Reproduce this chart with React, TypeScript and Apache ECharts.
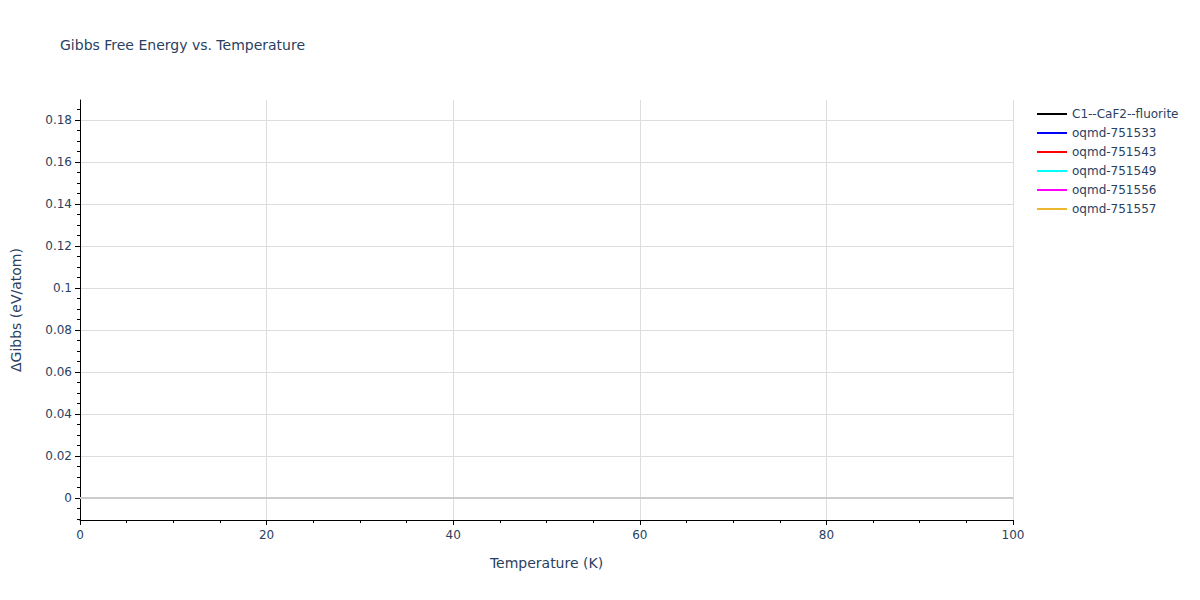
import React, { useEffect, useRef } from 'react'
import * as echarts from 'echarts'

const seriesNames = [
  'C1--CaF2--fluorite',
  'oqmd-751533',
  'oqmd-751543',
  'oqmd-751549',
  'oqmd-751556',
  'oqmd-751557'
]
const seriesColors = ['#000000', '#0000ff', '#ff0000', '#00ffff', '#ff00ff', '#ecb62f']
// no points fall inside the visible window in the reference
const seriesData: number[][][] = [[], [], [], [], [], []]

const yMajorTicks = [0, 0.02, 0.04, 0.06, 0.08, 0.1, 0.12, 0.14, 0.16, 0.18]
const yMinorTicks = [
  -0.01, -0.005, 0.005, 0.01, 0.015, 0.025, 0.03, 0.035, 0.045, 0.05, 0.055,
  0.065, 0.07, 0.075, 0.085, 0.09, 0.095, 0.105, 0.11, 0.115, 0.125, 0.13,
  0.135, 0.145, 0.15, 0.155, 0.165, 0.17, 0.175, 0.185
]
const yRange = [-0.0105, 0.1895]
const xRange = [0, 100]

const FONT = '"DejaVu Sans", Verdana, sans-serif'
const TEXT = '#2a3f5f'

const App: React.FC = () => {
  const chartRef = useRef<HTMLDivElement>(null)

  useEffect(() => {
    if (!chartRef.current) return
    const chart = echarts.init(chartRef.current, undefined, { renderer: 'svg' })

    const option: echarts.EChartsOption = {
      animation: false,
      backgroundColor: '#fff',
      textStyle: { fontFamily: FONT },
      title: {
        text: 'Gibbs Free Energy vs. Temperature',
        left: 60,
        top: 38,
        padding: 0,
        textStyle: { fontFamily: FONT, fontSize: 14, fontWeight: 'normal', color: TEXT }
      },
      legend: {
        orient: 'vertical',
        left: 1032,
        top: 102,
        itemWidth: 30,
        itemHeight: 2,
        itemGap: 5,
        icon: 'rect',
        textStyle: { fontFamily: FONT, fontSize: 12, color: TEXT, lineHeight: 14 },
        data: seriesNames
      },
      grid: { left: 80, right: 187, top: 100, bottom: 80 },
      xAxis: {
        type: 'value',
        min: xRange[0],
        max: xRange[1],
        interval: 20,
        name: 'Temperature (K)',
        nameLocation: 'middle',
        nameGap: 36,
        nameTextStyle: { fontFamily: FONT, fontSize: 14, color: TEXT },
        axisLine: { show: true, onZero: false, lineStyle: { color: '#000', width: 1 } },
        axisTick: { show: true, length: 5, lineStyle: { color: '#000' } },
        minorTick: { show: true, splitNumber: 4, length: 3, lineStyle: { color: '#000' } },
        axisLabel: { fontFamily: FONT, fontSize: 12, color: TEXT, margin: 9 },
        splitLine: { show: true, lineStyle: { color: '#dddddd', width: 1 } }
      },
      yAxis: [
        {
          type: 'value',
          min: yRange[0],
          max: yRange[1],
          name: 'ΔGibbs (eV/atom)',
          nameLocation: 'middle',
          nameGap: 57,
          nameTextStyle: { fontFamily: FONT, fontSize: 14, color: TEXT },
          axisLine: { show: true, onZero: false, lineStyle: { color: '#000', width: 1 } },
          axisTick: { show: true, length: 5, customValues: yMajorTicks, lineStyle: { color: '#000' } },
          axisLabel: {
            fontFamily: FONT,
            fontSize: 12,
            color: TEXT,
            margin: 8,
            customValues: yMajorTicks,
            formatter: (v: number) => String(Math.round(v * 1000) / 1000)
          },
          splitLine: { show: true, lineStyle: { color: '#dddddd', width: 1 } }
        },
        {
          type: 'value',
          min: yRange[0],
          max: yRange[1],
          position: 'left',
          axisLine: { show: false },
          axisTick: { show: true, length: 3, customValues: yMinorTicks, lineStyle: { color: '#000' } },
          axisLabel: { show: false },
          splitLine: { show: false }
        }
      ],
      series: seriesNames.map((name, i) => ({
        name,
        type: 'line',
        data: seriesData[i],
        showSymbol: false,
        color: seriesColors[i],
        lineStyle: { width: 2, color: seriesColors[i] },
        ...(i === 0
          ? {
              markLine: {
                silent: true,
                symbol: 'none',
                label: { show: false },
                lineStyle: { color: '#cccccc', width: 2, type: 'solid' },
                data: [{ yAxis: 0 }]
              }
            }
          : {})
      }))
    }

    chart.setOption(option)
    return () => {
      chart.dispose()
    }
  }, [])

  return (
    <div
      ref={chartRef}
      style={{ position: 'fixed', left: 0, top: 0, width: 1200, height: 600 }}
    />
  )
}

export default App
